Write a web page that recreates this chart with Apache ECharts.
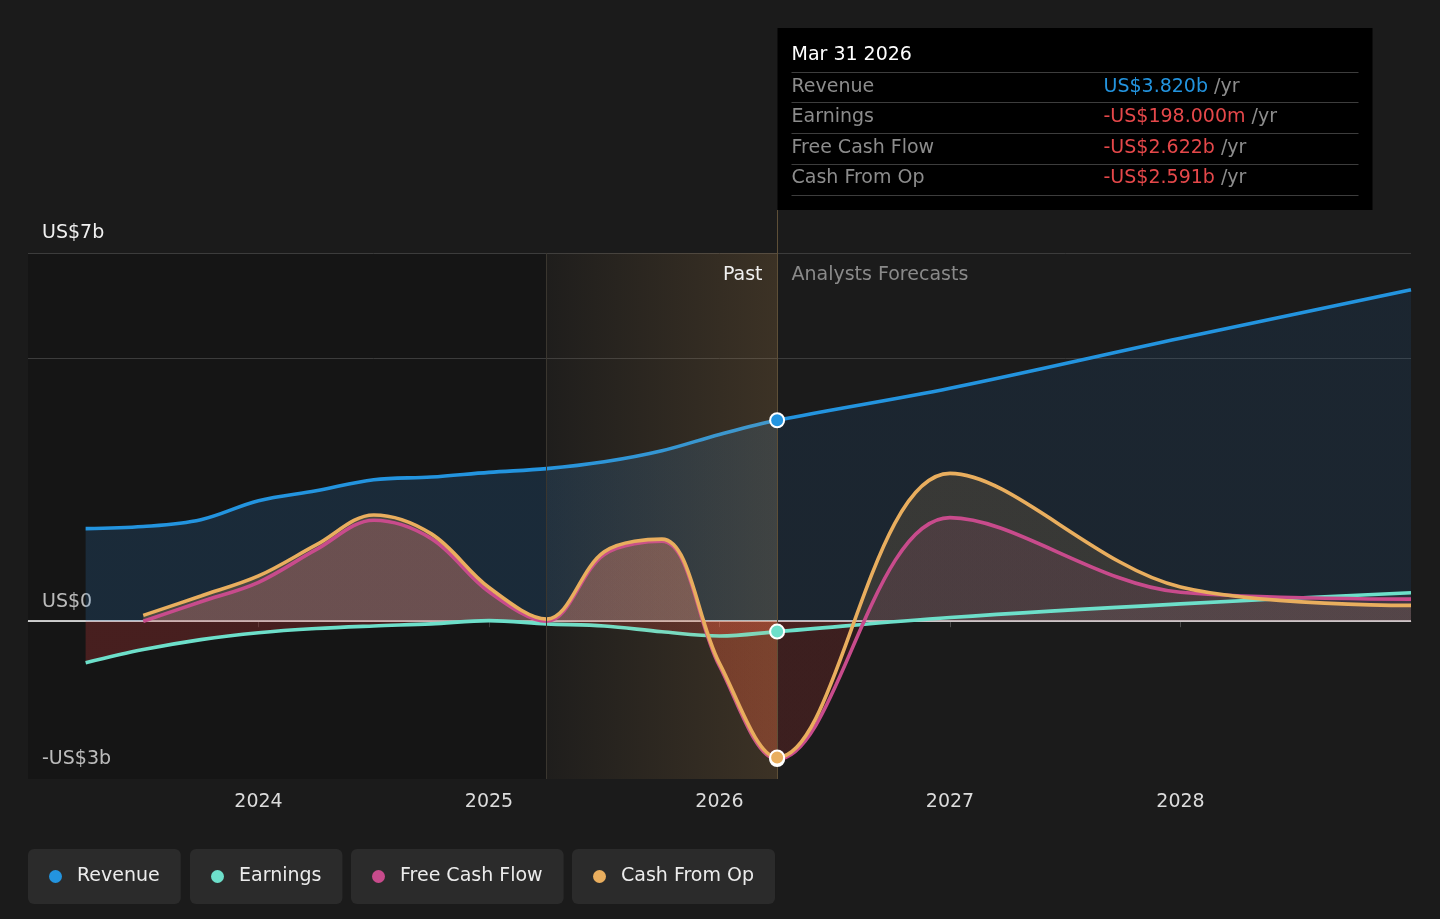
<!DOCTYPE html>
<html><head><meta charset="utf-8">
<script src="https://cdn.jsdelivr.net/npm/echarts@6/dist/echarts.min.js"></script>
<style>html,body{margin:0;padding:0;background:#1b1b1b;}#c{width:1440px;height:919px;}</style>
</head><body><div id="c"></div>
<script>
// ---------- data (US$ billions, x = decimal year) ----------
const pastDates = [2023.25,2023.5,2023.75,2024,2024.25,2024.5,2024.75,2025,2025.25,2025.5,2025.75,2026,2026.25];
const revenuePast = [1.76,1.80,1.93,2.29,2.48,2.69,2.74,2.83,2.90,3.03,3.24,3.55,3.82];
const earningsPast = [-0.79,-0.54,-0.35,-0.22,-0.14,-0.09,-0.05,0.01,-0.05,-0.09,-0.20,-0.28,-0.198];
const cashDates = [2023.5,2023.75,2024,2024.25,2024.5,2024.75,2025,2025.25,2025.5,2025.75,2026,2026.25];
const fcfPast = [0.0,0.37,0.74,1.36,1.92,1.57,0.56,0.0,1.27,1.52,-0.85,-2.622];
const cfoPast = [0.11,0.48,0.86,1.45,2.02,1.66,0.64,0.04,1.32,1.56,-0.80,-2.591];
const forecastDates = [2026.25,2027,2028,2029];
const revenueFc = [3.82,4.43,5.38,6.30];
const earningsFc = [-0.198,0.07,0.33,0.54];
const fcfFc = [-2.622,1.97,0.55,0.42];
const cfoFc = [-2.591,2.81,0.65,0.30];
const pastYearTicks = [2024,2025,2026];
const forecastYearTicks = [2027,2028];
const yLabelValues = [-3,0,7];
const yGridValues = [7,5];
const xStart = 2023, xEnd = 2029, highlightStart = 2025.25, todayX = 2026.25;
const yMin = -3, yMax = 7;
const tooltipDate = 'Mar 31 2026';
const seriesNames = ['Revenue','Earnings','Free Cash Flow','Cash From Op'];

// ---------- styling ----------
const FONT = 'DejaVu Sans';
const COL = ['#2394df','#6ddfca','#c84b8c','#e9ae5e'];
const GRID = {left:28, right:29, top:253, bottom:140};
const W = 1440;
const legendLefts = [28,190,351,572];
const SMOOTH = 0.35;
// [pastPositive, pastNegative, forecastPositive, forecastNegative]
const AREA = [
  ['rgba(50,140,220,0.18)','rgba(50,140,220,0.18)','rgba(30,110,190,0.13)','rgba(30,110,190,0.13)'],
  ['rgba(255,255,255,0.05)','rgba(220,60,60,0.25)','rgba(255,255,255,0.05)','rgba(220,50,50,0.09)'],
  ['rgba(200,80,140,0.24)','rgba(225,80,55,0.21)','rgba(200,80,140,0.13)','rgba(220,50,50,0.09)'],
  ['rgba(232,170,90,0.24)','rgba(225,80,55,0.21)','rgba(232,170,90,0.14)','rgba(220,50,50,0.09)']
];

function joined(px, py, fx, fy){
  const xs = px.concat(fx.slice(1)), ys = py.concat(fy.slice(1));
  return xs.map((x,i)=>[x, ys[i]]);
}
const fullData = [
  joined(pastDates, revenuePast, forecastDates, revenueFc),
  joined(pastDates, earningsPast, forecastDates, earningsFc),
  joined(cashDates, fcfPast, forecastDates, fcfFc),
  joined(cashDates, cfoPast, forecastDates, cfoFc)
];
const todayValues = [revenueFc[0], earningsFc[0], fcfFc[0], cfoFc[0]];

function fmt(v){
  const a = Math.abs(v);
  const s = a >= 1 ? 'US$'+a.toFixed(3)+'b' : 'US$'+(a*1000).toFixed(3)+'m';
  return (v<0?'-':'')+s;
}
function split(zeroY, pos, neg){
  if (zeroY == null) return pos;
  return {type:'linear', x:0, y:zeroY-0.5, x2:0, y2:zeroY+0.5, global:true,
    colorStops:[{offset:0,color:pos},{offset:1,color:neg}]};
}

function build(zeroY, todayPx, gridTopPx){
  const plotW = W - GRID.left - GRID.right;
  const splitPx = GRID.left + (todayX - xStart)/(xEnd - xStart)*plotW;
  const grids = [
    {left:GRID.left, right:GRID.right, top:GRID.top, bottom:GRID.bottom},
    {left:GRID.left, right:W - splitPx, top:GRID.top, bottom:GRID.bottom},
    {left:splitPx, right:GRID.right, top:GRID.top, bottom:GRID.bottom}
  ];
  const xAxes = [
    {gridIndex:0, type:'value', min:xStart, max:xEnd,
      axisLine:{show:true, lineStyle:{color:'#4a4a4a', width:1}},
      axisTick:{show:true, length:6, lineStyle:{color:'#4a4a4a'}, customValues:pastYearTicks.concat(forecastYearTicks)},
      splitLine:{show:false},
      axisLabel:{color:'#dcdcdc', fontSize:19, fontFamily:FONT, margin:14,
        customValues:pastYearTicks.concat(forecastYearTicks), formatter:v=>String(v)}},
    {gridIndex:1, type:'value', min:xStart, max:todayX, show:false},
    {gridIndex:2, type:'value', min:todayX, max:xEnd, show:false}
  ];
  const yAxes = [
    {gridIndex:0, type:'value', min:yMin, max:yMax,
      axisLine:{show:false}, axisTick:{show:false}, splitLine:{show:false},
      axisLabel:{inside:true, margin:14, color:'#f0f0f0', fontSize:19, fontFamily:FONT,
        verticalAlign:'bottom', padding:[0,0,10,0], customValues:yLabelValues,
        formatter:v=> v<0 ? '-US$'+Math.abs(v)+'b' : (v===0 ? 'US$0' : 'US$'+v+'b')}},
    {gridIndex:1, type:'value', min:yMin, max:yMax, show:false},
    {gridIndex:2, type:'value', min:yMin, max:yMax, show:false}
  ];

  const series = [];
  // background: darker past region + horizontal grid lines
  series.push({type:'line', data:[], silent:true, z:1, xAxisIndex:0, yAxisIndex:0,
    markArea:{z:1, silent:true, itemStyle:{color:'rgba(0,0,0,0.22)'},
      data:[[{xAxis:xStart},{xAxis:highlightStart}]]},
    markLine:{z:1, silent:true, symbol:'none', label:{show:false},
      data:[
        ...yGridValues.map(v=>({yAxis:v, lineStyle:{color:'#3c3c3c', width:1, type:'solid'}})),
        {yAxis:0, lineStyle:{color:'#ffffff', width:1.5, type:'solid'}}
      ]}});
  // area fills, clipped into past / forecast grids
  for (let g = 1; g <= 2; g++){
    seriesNames.forEach((n,i)=>{
      const a = AREA[i];
      series.push({type:'line', name:n, xAxisIndex:g, yAxisIndex:g, data:fullData[i],
        smooth:SMOOTH, symbol:'none', silent:true, z:2, clip:true,
        lineStyle:{width:0.01, opacity:0}, itemStyle:{color:COL[i]},
        areaStyle:{origin:'auto', opacity:1, color: g===1 ? split(zeroY,a[0],a[1]) : split(zeroY,a[2],a[3])},
        emphasis:{disabled:true}});
    });
  }
  // continuous lines
  seriesNames.forEach((n,i)=>{
    series.push({type:'line', name:n, xAxisIndex:0, yAxisIndex:0, data:fullData[i],
      smooth:SMOOTH, symbol:'none', silent:true, z:2,
      lineStyle:{color:COL[i], width:3.6}, itemStyle:{color:COL[i]},
      emphasis:{disabled:true}});
  });
  // highlight band overlay + vertical lines
  series.push({type:'line', data:[], silent:true, z:3, xAxisIndex:0, yAxisIndex:0,
    markArea:{z:3, silent:true,
      itemStyle:{color:{type:'linear', x:0, y:0, x2:1, y2:0,
        colorStops:[{offset:0,color:'rgba(232,170,90,0.02)'},{offset:1,color:'rgba(232,170,90,0.16)'}]}},
      data:[[{xAxis:highlightStart},{xAxis:todayX}]]},
    markLine:{z:3, silent:true, symbol:'none', label:{show:false},
      data:[
        {xAxis:highlightStart, lineStyle:{color:'#3a362f', width:1, type:'solid'}},
        {xAxis:todayX, lineStyle:{color:'#5e4f37', width:1, type:'solid'}}
      ]}});
  // today markers
  seriesNames.forEach((n,i)=>{
    series.push({type:'scatter', xAxisIndex:0, yAxisIndex:0, data:[[todayX, todayValues[i]]],
      symbol:'circle', symbolSize:14, silent:true, z:6,
      itemStyle:{color:COL[i], borderColor:'#ffffff', borderWidth:2, opacity:1},
      emphasis:{disabled:true}});
  });

  const graphic = [];
  if (todayPx != null){
    const tx = todayPx;
    graphic.push({type:'line', z:10, shape:{x1:tx, y1:210, x2:tx, y2:gridTopPx}, style:{stroke:'#5e4f37', lineWidth:1}});
    graphic.push({type:'text', z:10, x:tx-15, y:275, style:{text:'Past', fill:'#f0f0f0', font:'19px '+FONT, align:'right', verticalAlign:'middle'}});
    graphic.push({type:'text', z:10, x:tx+14, y:275, style:{text:'Analysts Forecasts', fill:'#8a8a8a', font:'19px '+FONT, align:'left', verticalAlign:'middle'}});
    const bx = tx, by = 28, bw = 595, bh = 182;
    graphic.push({type:'rect', z:10, shape:{x:bx, y:by, width:bw, height:bh}, style:{fill:'#000000'}});
    graphic.push({type:'text', z:11, x:bx+14, y:55, style:{text:tooltipDate, fill:'#ffffff', font:'19px '+FONT, verticalAlign:'middle'}});
    [72,102,133,164,195].forEach(y=>graphic.push({type:'line', z:11, shape:{x1:bx+14, y1:y+0.5, x2:bx+bw-14, y2:y+0.5}, style:{stroke:'#3d3d3d', lineWidth:1}}));
    const rowYs = [87,117,148,178];
    seriesNames.forEach((n,i)=>{
      graphic.push({type:'text', z:11, x:bx+14, y:rowYs[i], style:{text:n, fill:'#8c8c8c', font:'19px '+FONT, verticalAlign:'middle'}});
      const c = todayValues[i] < 0 ? '#e5484a' : COL[0];
      graphic.push({type:'text', z:11, x:bx+326, y:rowYs[i], style:{
        text:'{v|'+fmt(todayValues[i])+'}{u| /yr}', verticalAlign:'middle', font:'19px '+FONT,
        rich:{v:{fill:c, font:'19px '+FONT}, u:{fill:'#8c8c8c', font:'19px '+FONT}}}});
    });
  }

  return {
    backgroundColor:'#1b1b1b',
    animation:false,
    textStyle:{fontFamily:FONT},
    grid:grids, xAxis:xAxes, yAxis:yAxes,
    legend: seriesNames.map((n,i)=>({
      data:[n], left:legendLefts[i], top:849, orient:'horizontal',
      icon:'circle', itemWidth:13, itemHeight:13, selectedMode:false,
      padding:[17,21,17,21], backgroundColor:'#2b2b2b', borderRadius:6,
      itemStyle:{borderWidth:0},
      textStyle:{color:'#ececec', fontSize:19, fontFamily:FONT, lineHeight:21, padding:[0,0,0,10]}
    })),
    series, graphic
  };
}

const chart = echarts.init(document.getElementById('c'), null, {renderer:'canvas'});
chart.setOption(build(null, null, null));
const zeroY = chart.convertToPixel({xAxisIndex:0, yAxisIndex:0}, [todayX, 0])[1];
const todayPx = Math.round(chart.convertToPixel({xAxisIndex:0, yAxisIndex:0}, [todayX, 0])[0]) + 0.5;
const gridTopPx = chart.convertToPixel({xAxisIndex:0, yAxisIndex:0}, [todayX, yMax])[1];
chart.setOption(build(zeroY, todayPx, gridTopPx), true);
</script>
</body></html>
